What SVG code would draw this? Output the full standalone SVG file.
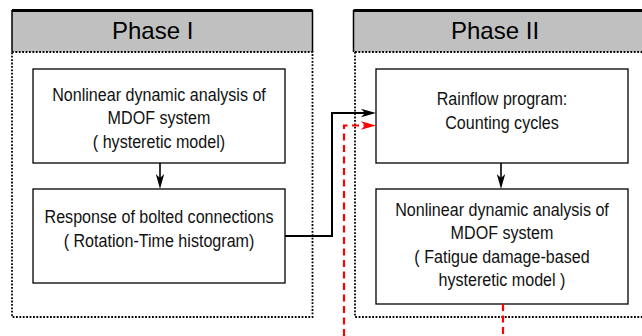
<svg xmlns="http://www.w3.org/2000/svg" width="642" height="336" viewBox="0 0 642 336">
<style>
.hdr{fill:#c0c0c0;stroke:none}
.hedge{stroke:#000;stroke-width:1.5;fill:none}
.htop{stroke:#000;stroke-width:2.8;fill:none}
.frame{fill:none;stroke:#000;stroke-width:1.8;stroke-dasharray:1.8 1.6}
.box{fill:#fff;stroke:#000;stroke-width:1.3}
.title{font-family:"Liberation Sans",Arial,sans-serif;font-size:24px;fill:#000}
.t{font-family:"Liberation Sans",Arial,sans-serif;font-size:18.5px;fill:#111;text-anchor:middle}
.blk{fill:none;stroke:#000;stroke-width:1.6}
.blk2{fill:none;stroke:#000;stroke-width:2}
.red{fill:none;stroke:#ff0000;stroke-width:2.2;stroke-dasharray:7 4.5}
</style>
<defs>
<marker id="ah" viewBox="0 0 15 9" refX="4" refY="4.5" markerWidth="15" markerHeight="9" markerUnits="userSpaceOnUse" orient="auto">
<path d="M0,0.3 L15,4.5 L0,8.7 L4,4.5 Z" fill="#000"/>
</marker>
<marker id="ahr" viewBox="0 0 15 9" refX="4" refY="4.5" markerWidth="15" markerHeight="9" markerUnits="userSpaceOnUse" orient="auto">
<path d="M0,0.3 L15,4.5 L0,8.7 L4,4.5 Z" fill="#ff0000"/>
</marker>
</defs>
<rect width="642" height="336" fill="#fff"/>

<g id="phase1">
<rect class="hdr" x="12" y="10" width="300.5" height="42"/>
<path class="hedge" d="M12,52 V10 M312.5,10 V52"/>
<path class="htop" d="M12,10.5 H312.5"/>
<rect class="frame" x="12" y="52" width="300.5" height="265"/>
<text class="title" x="112" y="39">Phase I</text>
</g>

<g id="phase2">
<rect class="hdr" x="353.5" y="10" width="290" height="42"/>
<path class="hedge" d="M353.5,52 V10"/>
<path class="htop" d="M353.5,10.5 H642"/>
<path class="frame" d="M355,52 H642 M355,52 V317 H642"/>
<text class="title" x="451" y="39">Phase II</text>
</g>

<g id="n1">
<rect class="box" x="33" y="69" width="252" height="94"/>
<g transform="translate(159,0) scale(0.87,1)">
<text class="t" x="0" y="101.5">Nonlinear dynamic analysis of</text>
<text class="t" x="0" y="124.5">MDOF system</text>
<text class="t" x="0" y="148">( hysteretic model)</text>
</g>
</g>

<g id="n2">
<rect class="box" x="33" y="189" width="252" height="94"/>
<g transform="translate(159,0) scale(0.87,1)">
<text class="t" x="0" y="223">Response of bolted connections</text>
<text class="t" x="0" y="247">( Rotation-Time histogram)</text>
</g>
</g>

<g id="n3">
<rect class="box" x="376" y="69" width="252" height="94"/>
<g transform="translate(502,0) scale(0.87,1)">
<text class="t" x="0" y="105.5">Rainflow program:</text>
<text class="t" x="0" y="129">Counting cycles</text>
</g>
</g>

<g id="n4">
<rect class="box" x="376" y="189" width="252" height="115"/>
<g transform="translate(502,0) scale(0.87,1)">
<text class="t" x="0" y="216">Nonlinear dynamic analysis of</text>
<text class="t" x="0" y="239.5">MDOF system</text>
<text class="t" x="0" y="263">( Fatigue damage-based</text>
<text class="t" x="0" y="286.5">hysteretic model )</text>
</g>
</g>

<g id="connectors">
<path class="blk" d="M160,163 V178" marker-end="url(#ah)"/>
<path class="blk" d="M501,163 V178" marker-end="url(#ah)"/>
<path class="blk2" d="M285,236 H332 V113 H365" marker-end="url(#ah)"/>
<path class="red" d="M344,336 V125.5 H365" marker-end="url(#ahr)"/>
<path class="red" d="M503,304 V336"/>
</g>
</svg>
